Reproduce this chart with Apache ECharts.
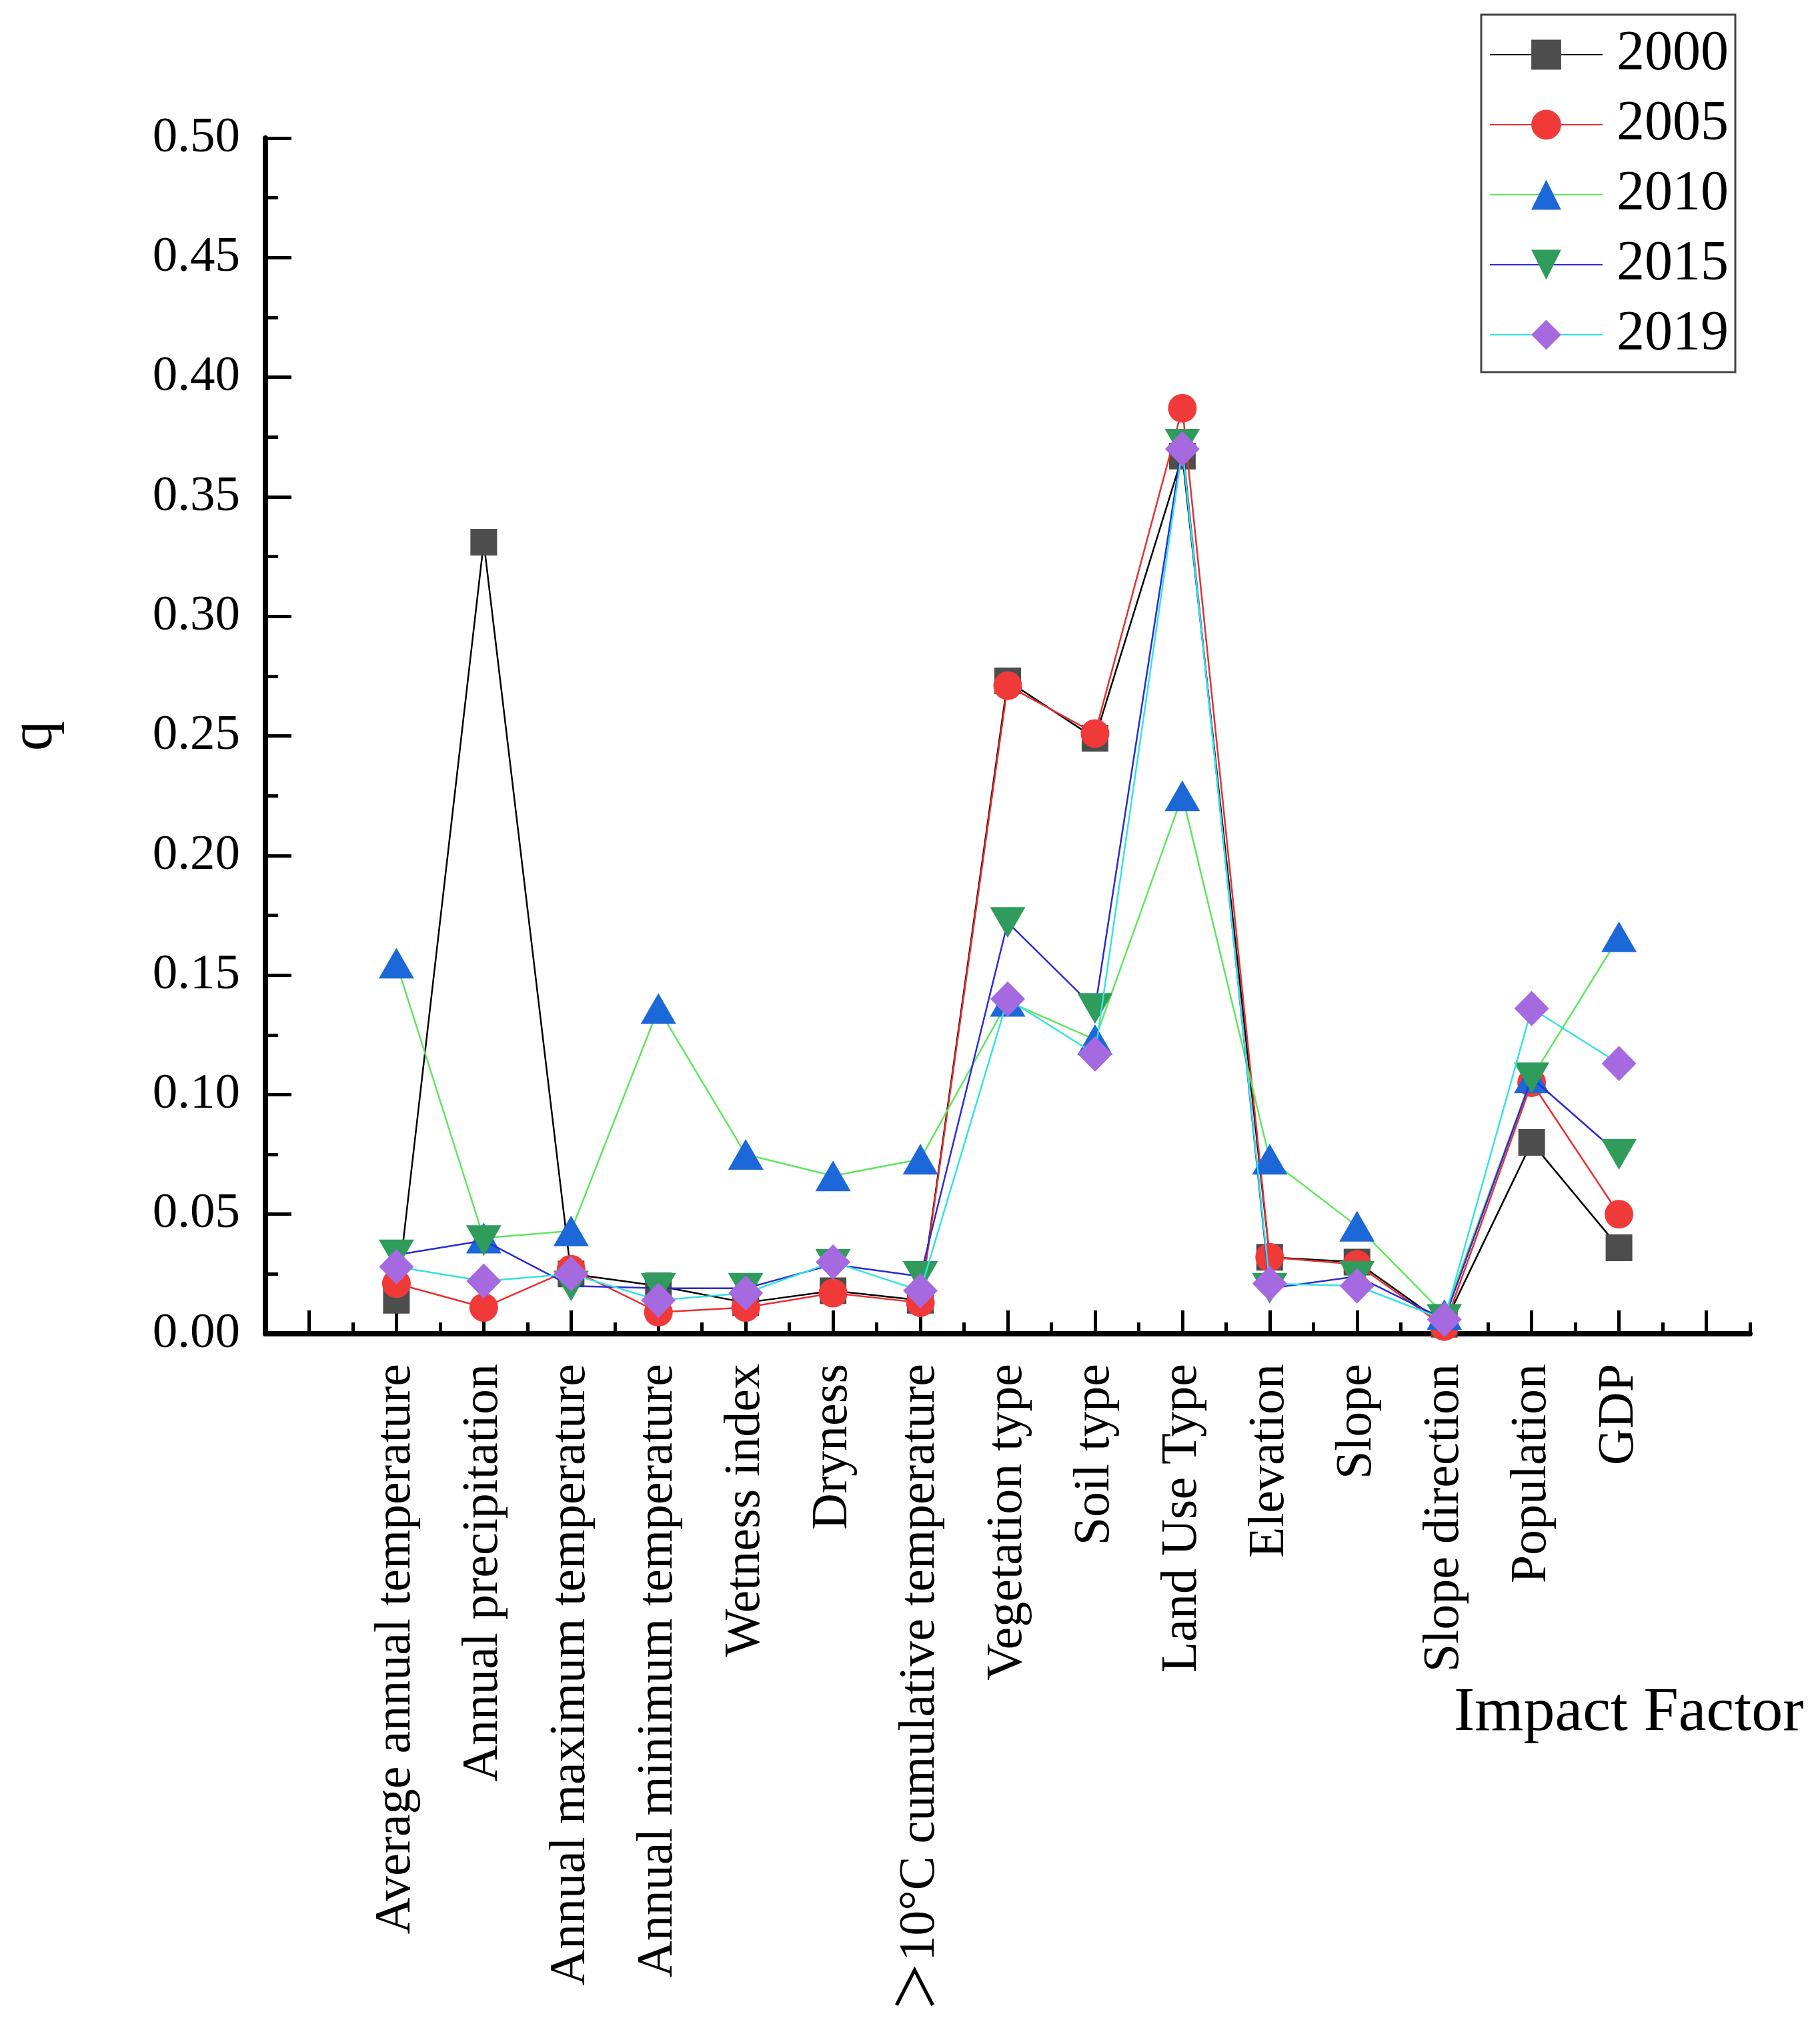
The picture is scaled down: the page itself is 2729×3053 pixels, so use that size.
<!DOCTYPE html>
<html>
<head>
<meta charset="utf-8">
<script src="https://cdn.jsdelivr.net/npm/echarts@6/dist/echarts.min.js"></script>
<style>
html,body{margin:0;padding:0;background:#fff;}
#chart{width:2729px;height:3053px;}
</style>
</head>
<body>
<div id="chart"></div>
<script>
// ---- data ----
const categories = ['Average annual temperature','Annual precipitation','Annual maximum temperature','Annual minimum temperature','Wetness index','Dryness','\uFF1E10\u00B0C cumulative temperature','Vegetation type','Soil type','Land Use Type','Elevation','Slope','Slope direction','Population','GDP'];
const years = ['2000','2005','2010','2015','2019'];
const q2000 = [0.014, 0.331, 0.025, 0.020, 0.013, 0.018, 0.014, 0.273, 0.249, 0.367, 0.032, 0.030, 0.004, 0.080, 0.036];
const q2005 = [0.021, 0.011, 0.027, 0.009, 0.011, 0.017, 0.013, 0.271, 0.251, 0.387, 0.032, 0.029, 0.003, 0.105, 0.050];
const q2010 = [0.155, 0.040, 0.043, 0.136, 0.075, 0.066, 0.073, 0.139, 0.123, 0.225, 0.073, 0.045, 0.008, 0.107, 0.166];
const q2015 = [0.033, 0.039, 0.020, 0.019, 0.019, 0.029, 0.024, 0.172, 0.136, 0.372, 0.019, 0.024, 0.006, 0.107, 0.075];
const q2019 = [0.028, 0.022, 0.025, 0.014, 0.017, 0.030, 0.018, 0.140, 0.117, 0.370, 0.021, 0.020, 0.006, 0.136, 0.113];
const yTicks = {min: 0, max: 0.5, interval: 0.05};

// ---- chart ----
const serif = 'Liberation Serif, "Times New Roman", "Noto Sans CJK SC", serif';
// one empty slot on each side of the factors
const axisCats = [' '].concat(categories).concat(['  ']);
const toPairs = arr => arr.map((v, i) => [i + 1, v]);

const styles = [
  {line: '#000000', mark: '#4d4d4d', symbol: 'rect', size: 40, rot: 0},
  {line: '#e53030', mark: '#f03a3a', symbol: 'circle', size: 43, rot: 0},
  {line: '#5ee65e', mark: '#1c68d8', symbol: 'triangle', size: [53, 46], rot: 0},
  {line: '#2a2ad6', mark: '#2f9c5c', symbol: 'triangle', size: [53, 46], rot: 180},
  {line: '#33e3e3', mark: '#a56ae0', symbol: 'diamond', size: [52, 53], rot: 0}
];
const allData = [q2000, q2005, q2010, q2015, q2019];

const series = years.map((y, k) => ({
  name: y,
  type: 'line',
  xAxisIndex: 0,
  data: toPairs(allData[k]),
  symbol: styles[k].symbol,
  symbolSize: styles[k].size,
  symbolRotate: styles[k].rot,
  showAllSymbol: true,
  lineStyle: {color: styles[k].line, width: 2.5},
  itemStyle: {color: styles[k].mark, borderWidth: 0},
  emphasis: {disabled: true},
  animation: false,
  z: 2 + k
}));

const chart = echarts.init(document.getElementById('chart'), null, {renderer: 'canvas'});
chart.setOption({
  backgroundColor: '#ffffff',
  animation: false,
  grid: {left: 396, right: 105, top: 207, bottom: 1053, containLabel: false},
  legend: {
    orient: 'vertical',
    left: 2221,
    top: 22,
    data: years,
    itemWidth: 169,
    itemHeight: 56,
    itemGap: 21,
    padding: [18, 10, 14, 12],
    borderColor: '#444444',
    borderWidth: 3,
    backgroundColor: '#ffffff',
    selectedMode: false,
    textStyle: {fontFamily: serif, fontSize: 84, color: '#000', lineHeight: 84, padding: [0, 0, 0, 16]}
  },
  xAxis: [
    {
      type: 'category',
      data: axisCats,
      boundaryGap: true,
      position: 'bottom',
      axisLine: {show: true, lineStyle: {color: '#000', width: 8}},
      axisTick: {show: true, inside: true, alignWithLabel: true, interval: 0, length: 35, lineStyle: {color: '#000', width: 5}},
      axisLabel: {show: true, interval: 0, rotate: 90, margin: 45, fontFamily: serif, fontSize: 76, color: '#000'},
      splitLine: {show: false}
    },
    {
      type: 'category',
      data: axisCats,
      boundaryGap: true,
      position: 'bottom',
      axisLine: {show: false},
      axisTick: {show: true, inside: true, interval: 0, length: 17, lineStyle: {color: '#000', width: 5}},
      axisLabel: {show: false},
      splitLine: {show: false}
    }
  ],
  yAxis: {
    type: 'value',
    min: yTicks.min,
    max: yTicks.max,
    interval: yTicks.interval,
    name: 'q',
    nameLocation: 'middle',
    nameRotate: 90,
    nameGap: 300,
    nameTextStyle: {fontFamily: serif, fontSize: 90, color: '#000'},
    axisLine: {show: true, lineStyle: {color: '#000', width: 8}},
    axisTick: {show: true, inside: true, length: 39, lineStyle: {color: '#000', width: 5}},
    minorTick: {show: true, splitNumber: 2, length: 19, lineStyle: {color: '#000', width: 5}},
    axisLabel: {margin: 38, fontFamily: serif, fontSize: 75, color: '#000', formatter: v => v.toFixed(2)},
    splitLine: {show: false},
    minorSplitLine: {show: false}
  },
  graphic: [{
    type: 'text',
    left: 2180,
    top: 2522,
    style: {text: 'Impact Factor', fontFamily: serif, fontSize: 94, fill: '#000'}
  }],
  series: series
});
</script>
</body>
</html>
